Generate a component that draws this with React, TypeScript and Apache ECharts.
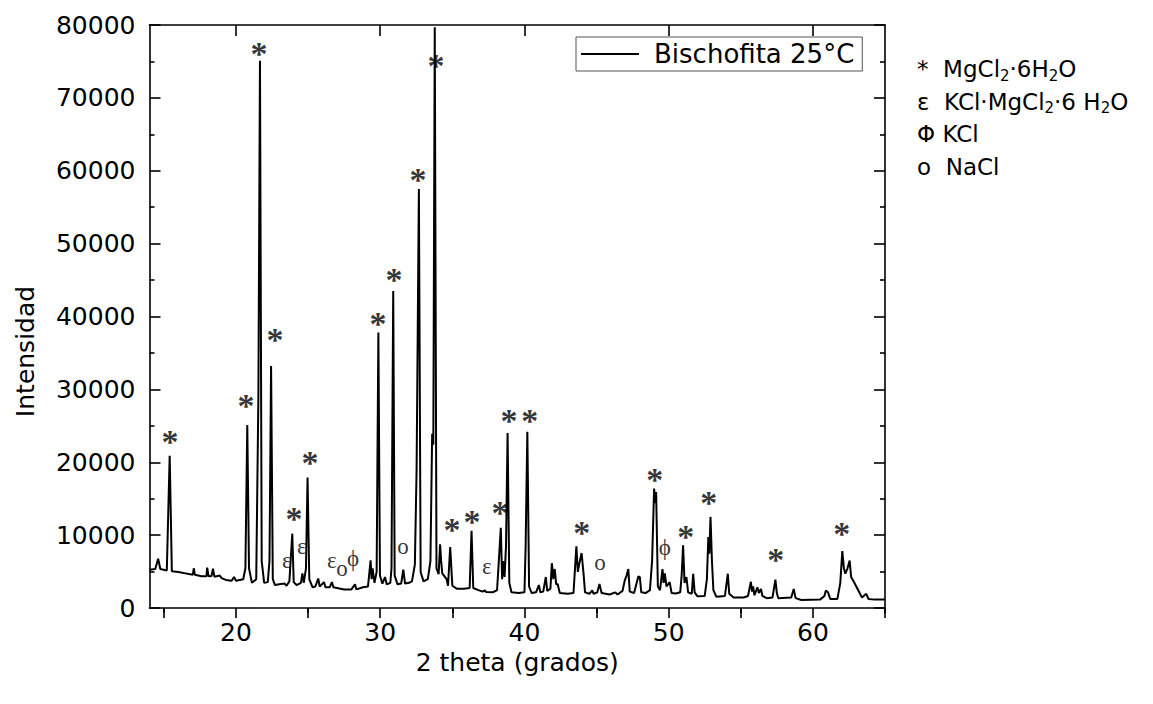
import React, { useEffect, useRef } from "react";
import * as echarts from "echarts";

const X_MIN = 14;
const X_MAX = 65;
const Y_MIN = 0;
const Y_MAX = 80000;

const xLabelValues = [20, 30, 40, 50, 60];
const xTickValues = [15, 20, 25, 30, 35, 40, 45, 50, 55, 60, 65];
const xMajorTop = [20, 30, 40, 50, 60];
const xMinorTop = [15, 25, 35, 45, 55, 65];
const yLabelValues = [0, 10000, 20000, 30000, 40000, 50000, 60000, 70000, 80000];
const yMinorTicks = [5000, 15000, 25000, 35000, 45000, 55000, 65000, 75000];

const seriesName = "Bischofita 25°C";

// 2θ positions (grados)
const thetaValues = [
  14.0, 14.4, 14.6, 14.75, 15.2, 15.4, 15.55, 16.0, 16.5, 17.0, 17.07, 17.15, 17.6, 17.95, 18.0, 18.1, 18.3, 18.4, 18.5, 18.87,
  19.0, 19.3, 19.7, 19.86, 20.0, 20.5, 20.65, 20.78, 20.9, 21.1, 21.4, 21.55, 21.66, 21.78, 21.95, 22.2, 22.32, 22.43, 22.55, 22.7,
  23.0, 23.37, 23.5, 23.7, 23.9, 24.0, 24.2, 24.5, 24.6, 24.7, 24.85, 24.96, 25.08, 25.3, 25.5, 25.7, 25.8, 26.1, 26.2, 26.5,
  26.65, 26.75, 27.0, 27.5, 28.0, 28.25, 28.35, 28.8, 29.15, 29.33, 29.4, 29.47, 29.6, 29.75, 29.87, 29.98, 30.15, 30.33, 30.45, 30.7,
  30.78, 30.9, 31.0, 31.2, 31.45, 31.6, 31.72, 32.0, 32.2, 32.4, 32.52, 32.68, 32.8, 33.0, 33.3, 33.48, 33.6, 33.68, 33.78, 33.9,
  34.05, 34.15, 34.22, 34.3, 34.6, 34.7, 34.85, 35.0, 35.3, 35.8, 36.2, 36.33, 36.45, 36.8, 37.1, 37.25, 37.35, 37.8, 38.1, 38.36,
  38.45, 38.52, 38.62, 38.72, 38.83, 38.95, 39.1, 39.6, 40.0, 40.08, 40.2, 40.32, 40.5, 40.8, 41.0, 41.1, 41.3, 41.48, 41.58, 41.8,
  41.9, 42.0, 42.1, 42.2, 42.3, 42.45, 43.0, 43.4, 43.6, 43.7, 43.8, 43.96, 44.1, 44.2, 44.5, 44.7, 44.8, 45.05, 45.2, 45.35,
  45.9, 46.3, 46.45, 46.8, 46.95, 47.08, 47.2, 47.3, 47.6, 47.9, 48.0, 48.1, 48.4, 48.7, 48.85, 48.99, 49.08, 49.13, 49.25, 49.4,
  49.57, 49.65, 49.73, 49.85, 50.07, 50.2, 50.5, 50.8, 50.9, 51.0, 51.1, 51.23, 51.35, 51.6, 51.7, 51.8, 52.0, 52.5, 52.65, 52.75,
  52.82, 52.9, 53.0, 53.1, 53.3, 53.9, 54.1, 54.2, 54.5, 55.2, 55.5, 55.7, 55.78, 55.85, 55.95, 56.15, 56.25, 56.4, 56.5, 56.8,
  57.2, 57.4, 57.5, 57.6, 58.5, 58.67, 58.8, 59.2, 60.5, 60.8, 60.9, 61.05, 61.2, 61.7, 61.9, 62.04, 62.15, 62.25, 62.4, 62.55,
  62.65, 62.8, 63.1, 63.4, 63.7, 63.85, 64.3, 65.0,
];

// Intensidad
const intensityValues = [
  5250, 5350, 6750, 5350, 5150, 20900, 5050, 4950, 4750, 4550, 5450, 4550, 4350, 4350, 5550, 4350, 4400, 5400, 4300, 4450,
  4100, 3850, 3750, 4250, 3750, 3950, 5450, 25100, 5450, 3450, 3950, 29000, 75100, 6450, 3450, 3550, 6450, 33200, 3950, 3150,
  3250, 3350, 3050, 3650, 10200, 3550, 3150, 3450, 4750, 3450, 5450, 17900, 3950, 2850, 2950, 4050, 2950, 3550, 2850, 2850,
  3550, 2850, 2750, 2550, 2550, 3250, 2550, 2850, 2950, 6550, 3950, 5450, 3450, 4950, 37800, 4450, 3350, 4250, 3250, 3450,
  5450, 43500, 4450, 3250, 3350, 5250, 3350, 3450, 3650, 5950, 18900, 57500, 4950, 3650, 3950, 6450, 23900, 22400, 79700, 5450,
  4650, 8750, 6500, 4750, 3950, 3050, 8350, 3050, 2650, 2650, 2750, 10600, 2750, 2450, 2250, 2400, 2200, 2150, 2450, 11000,
  3950, 6450, 4250, 8450, 24000, 3450, 2150, 2050, 2150, 8450, 24200, 2950, 2050, 2150, 3150, 2150, 2250, 4250, 2350, 2650,
  6150, 3950, 5350, 3250, 3300, 2050, 1950, 2050, 8450, 4950, 6050, 7550, 4650, 2150, 1950, 2400, 1950, 2150, 3300, 2050,
  1850, 2150, 1850, 2350, 3750, 4450, 5350, 2250, 2050, 4350, 4250, 2150, 2050, 2450, 6450, 16400, 14400, 15900, 2950, 2450,
  5350, 3450, 4750, 2950, 3550, 2050, 2000, 2150, 4450, 8600, 3450, 4250, 2150, 1950, 4700, 2150, 1600, 1650, 3950, 9750,
  7450, 12500, 6450, 2450, 1550, 1650, 4700, 1950, 1450, 1450, 1650, 3600, 2250, 2950, 1750, 2850, 2050, 2600, 1650, 1350,
  1450, 3900, 2050, 1350, 1450, 2600, 1350, 1100, 1150, 1650, 2400, 2150, 1250, 1250, 3450, 7800, 5450, 4700, 5450, 6500,
  4250, 3750, 2600, 1450, 1950, 1250, 1150, 1150,
];

// Bischofite (MgCl2·6H2O) reflection markers "*"
const starX = [15.43, 20.69, 21.59, 22.7, 24.02, 25.13, 29.84, 30.95, 32.61, 33.86, 34.97, 36.36, 38.3, 38.92, 40.37, 43.98, 49.04, 51.19, 52.78, 57.42, 62.0];
const starY = [23700, 28640, 76850, 37700, 13120, 20810, 39900, 45950, 59680, 75200, 11600, 12700, 13940, 26580, 26580, 11200, 18480, 10650, 15320, 7490, 11060];

// Other phase markers
const markText = ["ε", "ε", "ε", "o", "ϕ", "o", "ε", "o", "ϕ"];
const markX = [23.53, 24.57, 26.65, 27.35, 28.11, 31.57, 37.39, 45.23, 49.73];
const markY = [6250, 8170, 6250, 5150, 6520, 8170, 5430, 5980, 8040];

// Phase key on the right
const keySymbols = ["*", "ε", "Φ", "o"];
const keyTexts = [
  "MgCl{sub|2}·6H{sub|2}O",
  "KCl·MgCl{sub|2}·6 H{sub|2}O",
  "KCl",
  "NaCl",
];
const keyGaps = ["  ", "  ", " ", "  "];

const SANS = "DejaVu Sans";
const SERIF = "Liberation Serif";

export default function App() {
  const ref = useRef<HTMLDivElement | null>(null);

  useEffect(() => {
    document.body.style.margin = "0";
    if (!ref.current) return;
    const chart = echarts.init(ref.current, undefined, { renderer: "svg" });

    const lineData = thetaValues.map((x, i) => [x, intensityValues[i]]);
    const starData = starX.map((x, i) => [x, starY[i]]);
    const markData = markX.map((x, i) => ({ value: [markX[i], markY[i]], name: markText[i] }));

    const axisLineStyle = { color: "#000", width: 1.6 };

    const graphics = keySymbols.map((s, i) => ({
      type: "text",
      left: 917,
      top: 55 + i * 32.5,
      style: {
        text: s + keyGaps[i] + keyTexts[i],
        fill: "#000",
        fontFamily: SANS,
        fontSize: 23,
        lineHeight: 28,
        rich: {
          sub: { fontSize: 15, lineHeight: 15, verticalAlign: "bottom", fontFamily: SANS, fill: "#000" },
        },
      },
    }));

    const markLabelBase = {
      show: true,
      position: "inside",
      color: "#000",
      textBorderWidth: 0,
      textBorderColor: "transparent",
      textShadowBlur: 0,
    };

    chart.setOption({
      animation: false,
      backgroundColor: "#fff",
      grid: { left: 149.5, right: 268, top: 25, bottom: 96, containLabel: false },
      legend: {
        show: true,
        data: [seriesName],
        left: 576,
        top: 37,
        padding: [4, 8, 4, 5],
        icon: "rect",
        itemWidth: 58,
        itemHeight: 2,
        itemStyle: { color: "#000" },
        borderColor: "#555",
        borderWidth: 1,
        textStyle: { fontFamily: SANS, fontSize: 26, color: "#000", padding: [0, 0, 0, 10] },
      },
      xAxis: [
        {
          type: "value",
          position: "bottom",
          min: X_MIN,
          max: X_MAX,
          name: "2 theta (grados)",
          nameLocation: "middle",
          nameGap: 40,
          nameTextStyle: { fontFamily: SANS, fontSize: 25, color: "#000" },
          axisLine: { show: true, lineStyle: axisLineStyle },
          axisTick: { show: true, inside: false, length: 10, lineStyle: axisLineStyle, customValues: xTickValues },
          axisLabel: {
            show: true, margin: 12, fontFamily: SANS, fontSize: 25, color: "#000",
            customValues: xLabelValues, formatter: (v: number) => String(v),
          },
          splitLine: { show: false },
        },
        {
          type: "value",
          position: "top",
          min: X_MIN,
          max: X_MAX,
          axisLine: { show: true, onZero: false, lineStyle: axisLineStyle },
          axisTick: { show: true, inside: true, length: 11, lineStyle: axisLineStyle, customValues: xMajorTop },
          axisLabel: { show: false },
          splitLine: { show: false },
        },
        {
          type: "value",
          position: "top",
          min: X_MIN,
          max: X_MAX,
          axisLine: { show: false },
          axisTick: { show: true, inside: true, length: 5, lineStyle: axisLineStyle, customValues: xMinorTop },
          axisLabel: { show: false },
          splitLine: { show: false },
        },
      ],
      yAxis: [
        {
          type: "value",
          position: "left",
          min: Y_MIN,
          max: Y_MAX,
          name: "Intensidad",
          nameLocation: "middle",
          nameGap: 112,
          nameRotate: 90,
          nameTextStyle: { fontFamily: SANS, fontSize: 25, color: "#000", padding: [0, 70, 0, 0] },
          axisLine: { show: true, onZero: false, lineStyle: axisLineStyle },
          axisTick: { show: true, inside: true, length: 11, lineStyle: axisLineStyle, customValues: yLabelValues },
          axisLabel: {
            show: true, margin: 14, fontFamily: SANS, fontSize: 25, color: "#000",
            customValues: yLabelValues, formatter: (v: number) => String(v),
          },
          splitLine: { show: false },
        },
        {
          type: "value",
          position: "left",
          min: Y_MIN,
          max: Y_MAX,
          axisLine: { show: false },
          axisTick: { show: true, inside: true, length: 5, lineStyle: axisLineStyle, customValues: yMinorTicks },
          axisLabel: { show: false },
          splitLine: { show: false },
        },
        {
          type: "value",
          position: "right",
          min: Y_MIN,
          max: Y_MAX,
          axisLine: { show: true, onZero: false, lineStyle: axisLineStyle },
          axisTick: { show: true, inside: true, length: 11, lineStyle: axisLineStyle, customValues: yLabelValues },
          axisLabel: { show: false },
          splitLine: { show: false },
        },
        {
          type: "value",
          position: "right",
          min: Y_MIN,
          max: Y_MAX,
          axisLine: { show: false },
          axisTick: { show: true, inside: true, length: 5, lineStyle: axisLineStyle, customValues: yMinorTicks },
          axisLabel: { show: false },
          splitLine: { show: false },
        },
      ],
      series: [
        {
          name: seriesName,
          type: "line",
          xAxisIndex: 0,
          yAxisIndex: 0,
          data: lineData,
          symbol: "none",
          showSymbol: false,
          lineStyle: { color: "#000", width: 2 },
          itemStyle: { color: "#000" },
          z: 3,
        },
        {
          name: "bischofita-marcas",
          type: "scatter",
          xAxisIndex: 0,
          yAxisIndex: 0,
          data: starData,
          symbolSize: 1,
          itemStyle: { color: "rgba(0,0,0,0)" },
          silent: true,
          z: 5,
          label: {
            ...markLabelBase,
            formatter: () => "*",
            fontFamily: SERIF,
            fontWeight: "bold",
            fontSize: 34,
            offset: [0, 6],
          },
        },
        {
          name: "otras-fases",
          type: "scatter",
          xAxisIndex: 0,
          yAxisIndex: 0,
          data: markData,
          symbolSize: 1,
          itemStyle: { color: "rgba(0,0,0,0)" },
          silent: true,
          z: 5,
          label: {
            ...markLabelBase,
            formatter: (p: any) => p.name,
            fontFamily: SERIF,
            fontSize: 23,
            offset: [0, -2],
          },
        },
      ],
      graphic: graphics,
    });

    return () => {
      chart.dispose();
    };
  }, []);

  return <div ref={ref} style={{ width: 1153, height: 704 }} />;
}
